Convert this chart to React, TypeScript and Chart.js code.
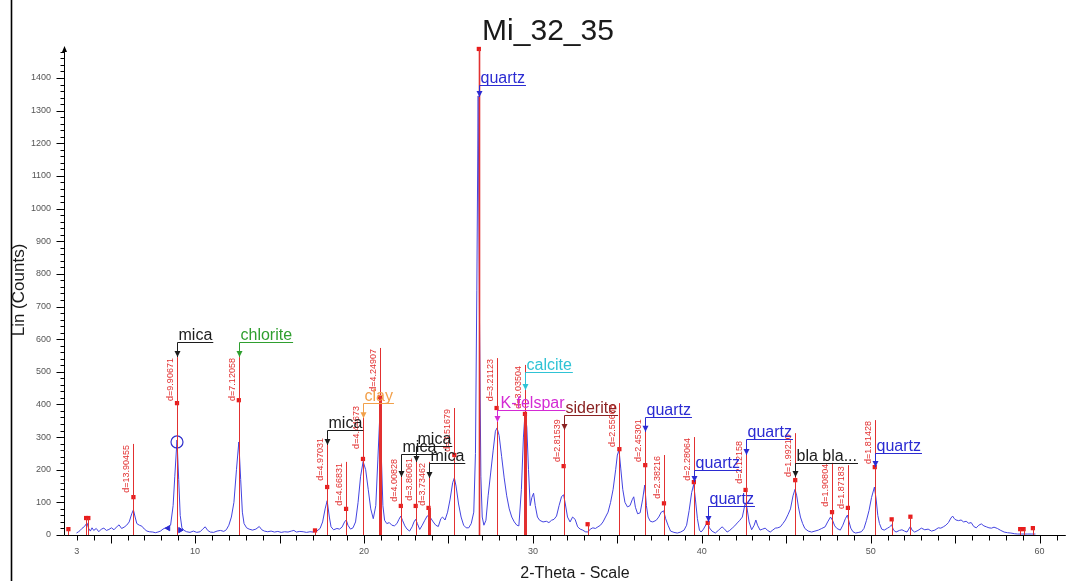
import React, { useEffect, useRef } from "react";
import { Chart, registerables } from "chart.js";
Chart.register(...registerables);

// ---- measured pattern (2-Theta, Lin counts) ----
const profilePoints: [number, number][] = [
  [2.98,6],[3.1,10],[3.2,14],[3.3,20],[3.45,26],[3.6,37],[3.7,20],[3.8,12],[3.9,22],[4.0,14],[4.15,20],[4.3,10],[4.45,18],[4.6,21],[4.75,14],[4.9,17],[5.05,22],[5.2,16],[5.4,27],[5.5,31],[5.65,20],[5.8,24],[5.95,30],[6.1,40],[6.25,65],[6.35,77],[6.45,55],[6.55,35],[6.7,30],[6.85,27],[7.0,18],[7.15,12],[7.3,10],[7.5,9],[7.65,7],[7.8,9],[7.95,12],[8.1,18],[8.25,22],[8.4,24],[8.55,30],[8.7,90],[8.8,180],[8.93,291],[9.03,170],[9.12,60],[9.22,22],[9.35,14],[9.5,10],[9.7,8],[9.9,12],[10.1,8],[10.3,10],[10.45,18],[10.6,25],[10.75,14],[10.9,9],[11.1,8],[11.3,12],[11.5,14],[11.7,11],[11.85,16],[12.0,30],[12.15,55],[12.3,100],[12.45,200],[12.59,285],[12.7,170],[12.8,70],[12.9,35],[13.05,22],[13.2,18],[13.4,15],[13.6,18],[13.8,26],[13.95,16],[14.1,12],[14.3,10],[14.5,12],[14.7,9],[14.9,11],[15.1,8],[15.3,10],[15.5,9],[15.7,12],[15.85,14],[16.0,9],[16.2,11],[16.4,10],[16.6,8],[16.8,10],[17.0,9],[17.2,12],[17.4,20],[17.55,40],[17.7,80],[17.82,105],[17.95,55],[18.05,25],[18.2,16],[18.4,20],[18.55,18],[18.7,24],[18.85,40],[18.95,46],[19.05,30],[19.2,18],[19.35,22],[19.5,40],[19.65,100],[19.8,180],[19.95,225],[20.1,200],[20.25,140],[20.4,80],[20.55,50],[20.7,90],[20.82,230],[20.94,370],[21.04,220],[21.12,90],[21.22,45],[21.35,35],[21.5,38],[21.65,30],[21.8,28],[21.95,35],[22.07,48],[22.18,58],[22.28,45],[22.42,28],[22.55,18],[22.7,12],[22.85,25],[22.96,40],[23.06,48],[23.16,35],[23.3,17],[23.45,30],[23.6,45],[23.74,58],[23.84,60],[23.95,52],[24.1,40],[24.25,30],[24.4,26],[24.55,50],[24.65,55],[24.8,46],[24.95,70],[25.1,110],[25.25,160],[25.35,175],[25.45,150],[25.6,95],[25.75,55],[25.9,30],[26.05,22],[26.2,22],[26.35,35],[26.5,70],[26.6,250],[26.68,750],[26.76,1345],[26.84,650],[26.92,180],[27.0,55],[27.1,30],[27.22,45],[27.35,120],[27.5,190],[27.65,260],[27.78,318],[27.88,328],[28.0,305],[28.15,240],[28.3,175],[28.45,120],[28.6,80],[28.75,55],[28.9,40],[29.05,30],[29.17,28],[29.32,140],[29.44,300],[29.54,377],[29.64,330],[29.74,200],[29.84,90],[29.94,115],[30.04,128],[30.14,90],[30.27,55],[30.4,45],[30.6,40],[30.8,42],[30.95,38],[31.1,45],[31.25,48],[31.4,58],[31.55,90],[31.7,118],[31.82,123],[31.92,95],[32.05,55],[32.2,40],[32.35,55],[32.5,48],[32.65,25],[32.8,18],[32.95,15],[33.1,10],[33.25,9],[33.4,18],[33.55,22],[33.7,20],[33.85,25],[34.0,30],[34.15,40],[34.3,55],[34.45,70],[34.6,100],[34.75,140],[34.9,200],[35.0,245],[35.1,260],[35.2,205],[35.32,140],[35.45,100],[35.6,86],[35.75,90],[35.88,108],[35.97,117],[36.07,85],[36.2,65],[36.35,68],[36.5,110],[36.62,153],[36.72,90],[36.82,55],[36.95,42],[37.1,40],[37.3,45],[37.45,55],[37.6,70],[37.74,74],[37.86,50],[38.0,30],[38.15,12],[38.35,8],[38.55,6],[38.75,9],[38.95,15],[39.1,30],[39.25,75],[39.4,130],[39.52,155],[39.62,110],[39.74,50],[39.86,15],[39.96,9],[40.1,18],[40.25,32],[40.35,40],[40.45,22],[40.6,12],[40.8,6],[41.0,15],[41.2,25],[41.35,18],[41.5,9],[41.65,14],[41.8,21],[41.95,28],[42.1,37],[42.25,45],[42.4,55],[42.57,98],[42.67,85],[42.8,40],[42.95,16],[43.1,30],[43.2,46],[43.3,30],[43.45,15],[43.6,18],[43.75,21],[43.9,14],[44.05,9],[44.2,15],[44.35,21],[44.5,22],[44.65,25],[44.8,35],[44.95,46],[45.1,62],[45.25,80],[45.4,120],[45.52,140],[45.62,120],[45.72,86],[45.84,55],[45.97,35],[46.1,20],[46.3,12],[46.5,9],[46.7,12],[46.9,15],[47.1,20],[47.3,25],[47.45,40],[47.62,55],[47.74,45],[47.87,28],[48.0,20],[48.2,15],[48.35,30],[48.5,50],[48.62,61],[48.72,40],[48.82,21],[48.95,10],[49.1,6],[49.3,8],[49.45,10],[49.6,20],[49.75,45],[49.9,75],[50.05,115],[50.22,147],[50.32,110],[50.42,60],[50.52,35],[50.65,18],[50.8,15],[51.0,21],[51.12,25],[51.24,31],[51.35,15],[51.5,9],[51.7,14],[51.85,16],[52.0,12],[52.15,9],[52.25,18],[52.35,26],[52.45,15],[52.6,9],[52.8,14],[53.0,21],[53.2,16],[53.4,18],[53.6,12],[53.8,15],[54.0,22],[54.15,21],[54.3,25],[54.45,30],[54.6,38],[54.75,52],[54.85,58],[54.95,50],[55.05,46],[55.2,44],[55.35,46],[55.5,40],[55.65,42],[55.8,36],[55.95,38],[56.1,26],[56.25,22],[56.4,30],[56.55,34],[56.7,28],[56.85,25],[57.0,22],[57.15,21],[57.3,24],[57.5,20],[57.7,14],[57.9,9],[58.1,7],[58.3,6],[58.5,4],[58.7,3],[58.9,3],[59.1,3],[59.3,3],[59.5,3],[59.75,3],
];

// ---- peak sticks (d-value markers) ----
const stickTheta = [2.5, 3.55, 3.68, 6.35, 8.93, 12.59, 17.1, 17.82, 18.94, 19.94, 20.94, 22.18, 23.06, 23.82, 25.35, 26.8, 27.85, 29.53, 31.82, 33.24, 35.12, 36.65, 37.76, 39.53, 40.35, 42.59, 45.53, 47.71, 48.65, 50.24, 51.24, 52.35, 58.85, 59.05, 59.6];
const stickMarker = [18, 52, 52, 116, 404, 413, 14, 147, 80, 233, 423, 89, 89, 83, 245, 1489, 389, 371, 211, 33, 263, 214, 97, 162, 37, 138, 168, 70, 83, 208, 48, 56, 18, 18, 21];
const stickTop = [18, 52, 52, 279, 545, 545, 14, 300, 224, 398, 573, 236, 239, 224, 389, 1489, 542, 521, 358, 33, 404, 358, 245, 300, 89, 291, 312, 221, 214, 352, 48, 56, 18, 18, 21];
const stickLabel = ["", "", "", "d=13.90455", "d=9.90671", "d=7.12058", "", "d=4.97031", "d=4.66831", "d=4.44673", "d=4.24907", "d=4.00828", "d=3.86061", "d=3.73462", "d=3.51679", "", "d=3.21123", "d=3.03504", "d=2.81539", "", "d=2.55665", "d=2.45301", "d=2.38216", "d=2.28064", "", "d=2.12158", "d=1.99210", "d=1.90804", "d=1.87183", "d=1.81428", "", "", "", "", ""];

// ---- phase identification labels ----
const phaseName = ["mica", "chlorite", "mica", "clay", "mica", "mica", "mica", "quartz", "K-felspar", "calcite", "siderite", "quartz", "quartz", "quartz", "quartz", "bla bla...", "quartz"];
const phaseTheta = [8.93, 12.59, 17.82, 19.94, 22.18, 23.06, 23.82, 26.8, 27.85, 29.53, 31.82, 36.65, 39.53, 40.35, 42.59, 45.53, 50.24];
const phaseLevel = [591, 591, 322, 404, 248, 273, 221, 1379, 383, 499, 368, 362, 199, 89, 294, 221, 251];
const phaseTip = [545, 545, 276, 358, 178, 224, 175, 1342, 346, 444, 322, 316, 162, 40, 245, 178, 208];

// ---- small extra marks ----
const circleTheta = [8.93];
const circleCounts = [285];
const triTheta = [8.41, 9.12];
const triCounts = [21, 15];

// ---- axes ----
const xTickLabels = [3, 10, 20, 30, 40, 50, 60];
const yTickLabels = [0, 100, 200, 300, 400, 500, 600, 700, 800, 900, 1000, 1100, 1200, 1300, 1400];

// ---- styles ----
const FONT = '"Liberation Sans", Arial, sans-serif';
const phaseColors: Record<string, string> = {
  mica: "#1c1c1c",
  chlorite: "#2f9f2f",
  clay: "#f2a04a",
  quartz: "#2b2bd2",
  "K-felspar": "#d42ad4",
  calcite: "#2fc3d5",
  siderite: "#8a2222",
  "bla bla...": "#1c1c1c",
};
const thickSticks = [20.94, 23.82, 29.53];
const STICK_RED = "#e23030";

const decor = {
  id: "decor",
  beforeDraw(chart: any) {
    const { ctx } = chart;
    ctx.save();
    ctx.fillStyle = "#ffffff";
    ctx.fillRect(0, 0, chart.width, chart.height);
    ctx.restore();
  },
  afterDatasetsDraw(chart: any) {
    const { ctx, scales } = chart;
    const x = scales.x, y = scales.y;
    const base = y.getPixelForValue(0);
    ctx.save();
    // sticks
    for (let i = 0; i < stickTheta.length; i++) {
      const px = Math.round(x.getPixelForValue(stickTheta[i])) + 0.5;
      const top = y.getPixelForValue(stickTop[i]);
      const mk = y.getPixelForValue(stickMarker[i]);
      ctx.strokeStyle = STICK_RED;
      ctx.lineWidth = stickTheta[i] === 26.8 ? 1.6 : 1;
      ctx.beginPath();
      ctx.moveTo(px, top);
      ctx.lineTo(px, base);
      ctx.stroke();
      if (thickSticks.includes(stickTheta[i])) {
        ctx.lineWidth = 3;
        ctx.beginPath();
        ctx.moveTo(px, mk);
        ctx.lineTo(px, base);
        ctx.stroke();
      }
      if (stickLabel[i]) {
        ctx.save();
        ctx.translate(px - 6.5, top + 1);
        ctx.rotate(-Math.PI / 2);
        ctx.font = `9px ${FONT}`;
        ctx.fillStyle = STICK_RED;
        ctx.textAlign = "right";
        ctx.textBaseline = "middle";
        ctx.fillText(stickLabel[i], 0, 0);
        ctx.restore();
      }
    }
    // phase labels
    ctx.font = `16px ${FONT}`;
    for (let i = 0; i < phaseName.length; i++) {
      const name = phaseName[i];
      const col = phaseColors[name];
      const px = Math.round(x.getPixelForValue(phaseTheta[i])) + 0.5;
      const ly = Math.round(y.getPixelForValue(phaseLevel[i])) + 0.5;
      const ty = y.getPixelForValue(phaseTip[i]);
      const w = ctx.measureText(name).width;
      const tx = name === "K-felspar" ? px + 3 : px + 1;
      ctx.fillStyle = col;
      ctx.strokeStyle = col;
      ctx.lineWidth = 1;
      ctx.textAlign = "left";
      ctx.textBaseline = "alphabetic";
      ctx.fillText(name, tx, ly - 3);
      ctx.beginPath();
      ctx.moveTo(px, ly);
      ctx.lineTo(tx + w + 1, ly);
      ctx.moveTo(px, ly);
      ctx.lineTo(px, ty);
      ctx.stroke();
      ctx.beginPath();
      ctx.moveTo(px - 3, ty - 6);
      ctx.lineTo(px + 3, ty - 6);
      ctx.lineTo(px, ty);
      ctx.closePath();
      ctx.fill();
    }
    ctx.restore();
  },
  afterDraw(chart: any) {
    const { ctx, scales } = chart;
    const x = scales.x, y = scales.y;
    const right = x.right;
    const base = Math.round(y.getPixelForValue(0)) + 0.5;
    const axX = Math.round(x.left) + 0.5;
    ctx.save();
    ctx.strokeStyle = "#000";
    ctx.fillStyle = "#000";
    // frame line on the left
    ctx.lineWidth = 1.6;
    ctx.beginPath();
    ctx.moveTo(11.5, 0);
    ctx.lineTo(11.5, chart.height);
    ctx.stroke();
    ctx.lineWidth = 1;
    // y axis
    ctx.beginPath();
    ctx.moveTo(axX, base);
    ctx.lineTo(axX, y.top + 2);
    ctx.stroke();
    ctx.beginPath();
    ctx.moveTo(axX - 2.5, y.top + 5);
    ctx.lineTo(axX + 2.5, y.top + 5);
    ctx.lineTo(axX, y.top - 1);
    ctx.closePath();
    ctx.fill();
    for (let v = 0; v <= 1480; v += 20) {
      const py = Math.round(y.getPixelForValue(v)) + 0.5;
      const len = v % 100 === 0 ? 8 : 4;
      ctx.beginPath();
      ctx.moveTo(axX - len, py);
      ctx.lineTo(axX, py);
      ctx.stroke();
    }
    ctx.font = `9px ${FONT}`;
    ctx.fillStyle = "#555";
    ctx.textAlign = "right";
    ctx.textBaseline = "middle";
    for (const v of yTickLabels) ctx.fillText(String(v), 51, y.getPixelForValue(v));
    // x axis
    ctx.beginPath();
    ctx.moveTo(axX, base);
    ctx.lineTo(right, base);
    ctx.stroke();
    for (let t = 3; t <= 61; t += 1) {
      const px = Math.round(x.getPixelForValue(t)) + 0.5;
      const len = t % 5 === 0 ? 8 : 5;
      ctx.beginPath();
      ctx.moveTo(px, base);
      ctx.lineTo(px, base + len);
      ctx.stroke();
    }
    ctx.textAlign = "center";
    for (const t of xTickLabels) ctx.fillText(String(t), x.getPixelForValue(t), 552);
    // titles
    ctx.fillStyle = "#1a1a1a";
    ctx.font = `30px ${FONT}`;
    ctx.textAlign = "center";
    ctx.textBaseline = "alphabetic";
    ctx.fillText("Mi_32_35", 548, 40);
    ctx.font = `16px ${FONT}`;
    ctx.fillText("2-Theta - Scale", 575, 578);
    ctx.save();
    ctx.translate(19.5, 290);
    ctx.rotate(-Math.PI / 2);
    ctx.font = `17px ${FONT}`;
    ctx.textBaseline = "middle";
    ctx.fillText("Lin (Counts)", 0, 0);
    ctx.restore();
    ctx.restore();
  },
};

export default function App() {
  const ref = useRef<HTMLCanvasElement>(null);
  useEffect(() => {
    document.body.style.margin = "0";
    const canvas = ref.current!;
    const chart = new Chart(canvas, {
      type: "line",
      data: {
        datasets: [
          {
            label: "circle",
            data: circleTheta.map((t, i) => ({ x: t, y: circleCounts[i] })),
            showLine: false,
            pointStyle: "circle",
            pointRadius: 6,
            pointBorderColor: "#3030cc",
            pointBackgroundColor: "rgba(0,0,0,0)",
            pointBorderWidth: 1.2,
            order: 0,
          } as any,
          {
            label: "marks",
            data: triTheta.map((t, i) => ({ x: t, y: triCounts[i] })),
            showLine: false,
            pointStyle: "triangle",
            pointRadius: 3,
            pointRotation: [-90, 90],
            pointBorderColor: "#2a2ad0",
            pointBackgroundColor: "#2a2ad0",
            order: 1,
          } as any,
          {
            label: "sticks",
            data: stickTheta.map((t, i) => ({ x: t, y: stickMarker[i] })),
            showLine: false,
            pointStyle: "rect",
            pointRadius: 3,
            pointBorderWidth: 0,
            pointBackgroundColor: "#e81c1c",
            pointBorderColor: "#e81c1c",
            clip: false,
            order: 2,
          } as any,
          {
            label: "Mi_32_35",
            data: profilePoints.map(([t, c]) => ({ x: t, y: c })),
            borderColor: "#4444e0",
            borderWidth: 1,
            pointRadius: 0,
            tension: 0,
            fill: false,
            order: 3,
          },
        ],
      },
      options: {
        animation: false,
        responsive: false,
        maintainAspectRatio: false,
        layout: { padding: { left: 64, right: 0, top: 47, bottom: 46 } },
        scales: {
          x: { type: "linear", min: 2.24, max: 61.55, display: false },
          y: { type: "linear", min: 0, max: 1495, display: false },
        },
        plugins: {
          legend: { display: false },
          tooltip: { enabled: false },
          title: { display: false },
        },
      },
      plugins: [decor],
    });
    return () => chart.destroy();
  }, []);
  return (
    <canvas
      ref={ref}
      width={1073}
      height={581}
      style={{ position: "absolute", left: 0, top: 0, width: 1073, height: 581 }}
    />
  );
}
